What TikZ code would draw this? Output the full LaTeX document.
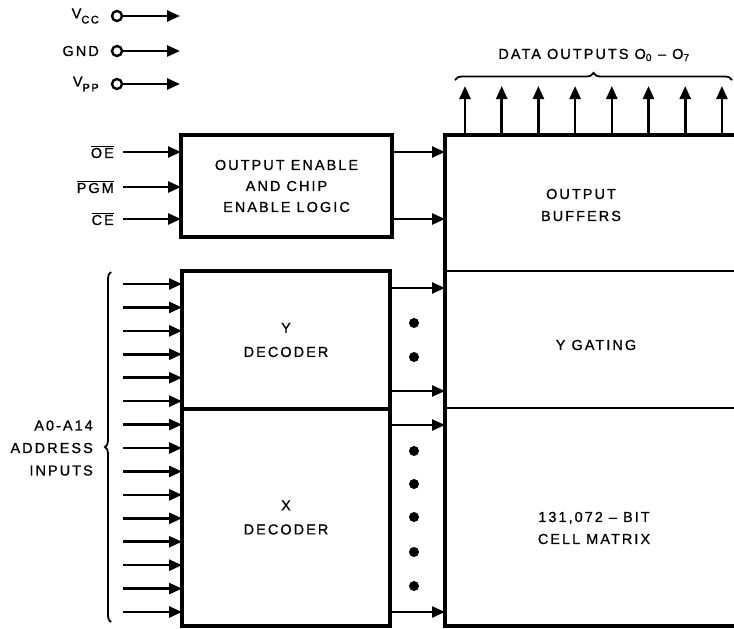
\documentclass[tikz,border=0pt]{standalone}
\usepackage{fontspec}
\setmainfont{Liberation Sans}[LetterSpace=14, FakeBold=0.8]
\usetikzlibrary{arrows.meta,decorations.pathreplacing}
\begin{document}
\begin{tikzpicture}[x=1pt,y=-1pt,
  lab/.style={font=\fontsize{14.5}{22}\selectfont, align=center, inner sep=0pt},
  blk/.style={draw, line width=3.2pt, inner sep=0pt, outer sep=0pt, align=center, font=\fontsize{14.5}{24}\selectfont},
  area/.style={inner sep=0pt, outer sep=0pt},
  arr/.style={line width=2.6pt, -{Triangle[length=13pt,width=11pt]}},
  pin/.style={circle, draw, line width=2.4pt, minimum size=10pt, inner sep=0pt},
  dot/.style={circle, fill, minimum size=10pt, inner sep=0pt},
  brc/.style={decorate, line width=1.8pt}]
\useasboundingbox (0,0) rectangle (734,629);

% power pins
\foreach \n/\y/\t in {vcc/16/{V\raisebox{-5pt}{\fontsize{11}{11}\selectfont CC}},gnd/51/GND,vpp/84/{V\raisebox{-5pt}{\fontsize{11}{11}\selectfont PP}}}{
  \node[pin] (c\n) at (117,\y) {};
  \coordinate (t\n) at (180,\y);
  \draw[arr] (c\n) -- (t\n);
  \node[lab, anchor=east] (l\n) at (99,\y) {\t};
}

% blocks
\node[blk, minimum width=211pt, minimum height=102pt] (oel) at (286.5,186) {OUTPUT ENABLE\\[-3pt]AND CHIP\\[-3pt]ENABLE LOGIC};
\node[blk, minimum width=208pt, minimum height=138pt] (ydec) at (286,340) {Y\\DECODER};
\node[blk, minimum width=208pt, minimum height=217pt] (xdec) at (286,517.5) {X\\DECODER};

% right column areas
\node[area, minimum width=289pt, minimum height=136pt] (obuf) at (589.5,203) {};
\node[area, minimum width=289pt, minimum height=137pt] (yg) at (589.5,339.5) {};
\node[area, minimum width=289pt, minimum height=218pt] (cm) at (589.5,517) {};
\draw[line width=3.2pt] (obuf.north east) -- (obuf.north west) -- (cm.south west) -- (cm.south east);
\draw[line width=2.6pt] (yg.north west) -- (yg.north east);
\draw[line width=2.6pt] (cm.north west) -- (cm.north east);
\node[lab] (obuft) at (581,205) {OUTPUT\\BUFFERS};
\node[lab] (ygt) at (596,345) {Y GATING};
\node[lab] (cmt) at (594,528) {131,072 – BIT\\CELL MATRIX};

% control inputs
\foreach \n/\y/\t in {oe/152/OE,pgm/187/PGM,ce/219/CE}{
  \coordinate (i\n) at (123,\y);
  \draw[arr] (i\n) -- (i\n -| oel.west);
  \node[lab, anchor=east] (l\n) at (114,\y) {$\overline{\mbox{\t}}$};
}
% OE block outputs
\foreach \n/\y in {a/152,b/219}{
  \coordinate (o\n) at (392,\y);
  \draw[arr] (o\n -| oel.east) -- (o\n -| obuf.west);
}

% address inputs
\foreach \i in {0,...,14}{
  \pgfmathsetmacro{\yy}{284+\i*23.43}
  \coordinate (a\i) at (123,\yy);
  \ifnum\i<6
    \draw[arr] (a\i) -- (a\i -| ydec.west);
  \else
    \draw[arr] (a\i) -- (a\i -| xdec.west);
  \fi
}
\draw[brc, decoration={brace, amplitude=6pt}] (111,622) -- (111,272);
\node[lab, align=right, anchor=east, font=\fontsize{14.5}{22.5}\selectfont] (alab) at (93,448) {A0-A14\\ADDRESS\\INPUTS};

% decoder to matrix
\foreach \n/\y in {p/288,q/391}{
  \coordinate (m\n) at (400,\y);
  \draw[arr] (m\n -| ydec.east) -- (m\n -| yg.west);
}
\foreach \n/\y in {r/425,s/612}{
  \coordinate (m\n) at (400,\y);
  \draw[arr] (m\n -| xdec.east) -- (m\n -| cm.west);
}
\foreach \y [count=\k] in {323,357,451,484,517,552,586}{
  \node[dot] (dt\k) at (414,\y) {};
}

% data outputs
\foreach \i in {0,...,7}{
  \pgfmathsetmacro{\xx}{465+\i*36.7}
  \coordinate (d\i) at (\xx,86);
  \draw[arr] (d\i |- obuf.north) -- (d\i);
}
\draw[brc, decoration={brace, amplitude=7pt}] (455,80) -- (732,80);
\node[lab] (dout) at (594,55) {DATA OUTPUTS O\textsubscript{0} – O\textsubscript{7}};
\end{tikzpicture}
\end{document}
